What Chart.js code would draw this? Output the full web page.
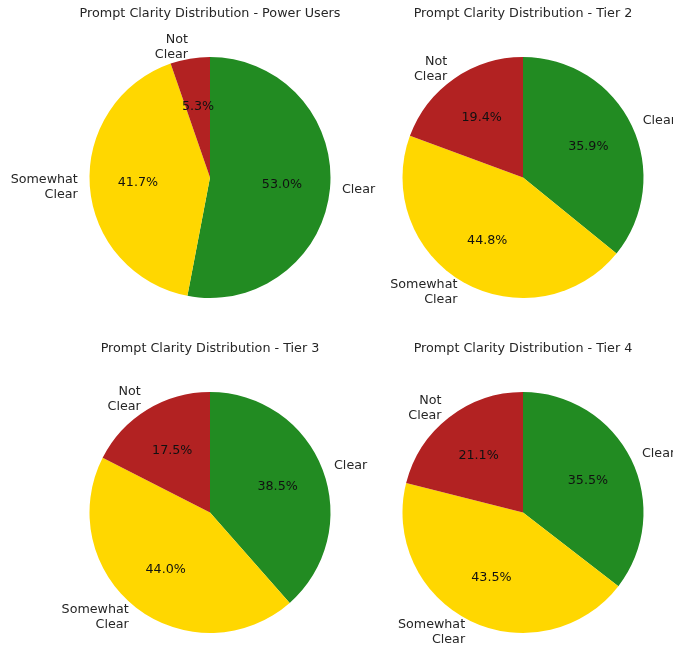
<!DOCTYPE html>
<html>
<head>
<meta charset="utf-8">
<script src="https://cdn.jsdelivr.net/npm/chart.js@4"></script>
<style>
  body { margin: 0; background: #fff; }
  .panel { position: absolute; }
</style>
</head>
<body>
<canvas id="c1" class="panel" width="400" height="335" style="left:0;top:0"></canvas>
<canvas id="c2" class="panel" width="373" height="335" style="left:300px;top:0"></canvas>
<canvas id="c3" class="panel" width="400" height="310" style="left:0;top:335px"></canvas>
<canvas id="c4" class="panel" width="373" height="310" style="left:300px;top:335px"></canvas>
<script>
const categories = ['Clear', 'Somewhat Clear', 'Not Clear'];
const sliceLabels = [['Clear'], ['Somewhat', 'Clear'], ['Not', 'Clear']];
const groups = ['Power Users', 'Tier 2', 'Tier 3', 'Tier 4'];

const powerUsers = [53.0, 41.7, 5.3];
const tier2 = [35.9, 44.8, 19.4];
const tier3 = [38.5, 44.0, 17.5];
const tier4 = [35.5, 43.5, 21.1];

const COLORS = ['#228B22', '#FFD700', '#B22222'];
const FONT = '"DejaVu Sans", sans-serif';
const TEXT = '#262626';

// matplotlib style labels: names at 1.1r, percentages at 0.6r
const pieLabels = {
  id: 'pieLabels',
  afterDatasetsDraw(chart) {
    const ctx = chart.ctx;
    const meta = chart.getDatasetMeta(0);
    const values = chart.data.datasets[0].data;
    ctx.save();
    ctx.font = '12.7px ' + FONT;
    ctx.textBaseline = 'middle';
    meta.data.forEach((arc, i) => {
      const mid = (arc.startAngle + arc.endAngle) / 2;
      const r = arc.outerRadius;
      const cos = Math.cos(mid), sin = Math.sin(mid);

      ctx.fillStyle = '#111';
      ctx.textAlign = 'center';
      ctx.fillText(values[i].toFixed(1) + '%', arc.x + cos * r * 0.6, arc.y + sin * r * 0.6);

      const lx = arc.x + cos * r * 1.1;
      const ly = arc.y + sin * r * 1.1;
      const lines = sliceLabels[i];
      const lh = 15;
      ctx.fillStyle = TEXT;
      ctx.textAlign = cos > 0 ? 'left' : 'right';
      lines.forEach((line, k) => {
        ctx.fillText(line, lx, ly + (k - (lines.length - 1) / 2) * lh);
      });
    });
    ctx.restore();
  }
};

function makePie(id, group, values, padding) {
  new Chart(document.getElementById(id), {
    type: 'pie',
    data: {
      labels: categories,
      datasets: [{ data: values, backgroundColor: COLORS, borderWidth: 0 }],
    },
    options: {
      responsive: false,
      animation: false,
      layout: { padding },
      plugins: {
        legend: { display: false },
        tooltip: { enabled: false },
        title: {
          display: true,
          text: 'Prompt Clarity Distribution - ' + group,
          color: TEXT,
          font: { family: FONT, size: 12.75, weight: 'normal', lineHeight: 1.2 },
          padding: { top: 2.5, bottom: 35.2 },
        },
      },
    },
    plugins: [pieLabels],
  });
}

// chart area is wider than the pie so the title box is wide enough; pie stays centred
makePie('c1', groups[0], powerUsers, { left: 50, right: 30, top: 4, bottom: 37 });
makePie('c2', groups[1], tier2, { left: 73, right: 0, top: 4, bottom: 37 });
makePie('c3', groups[2], tier3, { left: 50, right: 30, top: 4, bottom: 12 });
makePie('c4', groups[3], tier4, { left: 73, right: 0, top: 4, bottom: 12 });
</script>
</body>
</html>
